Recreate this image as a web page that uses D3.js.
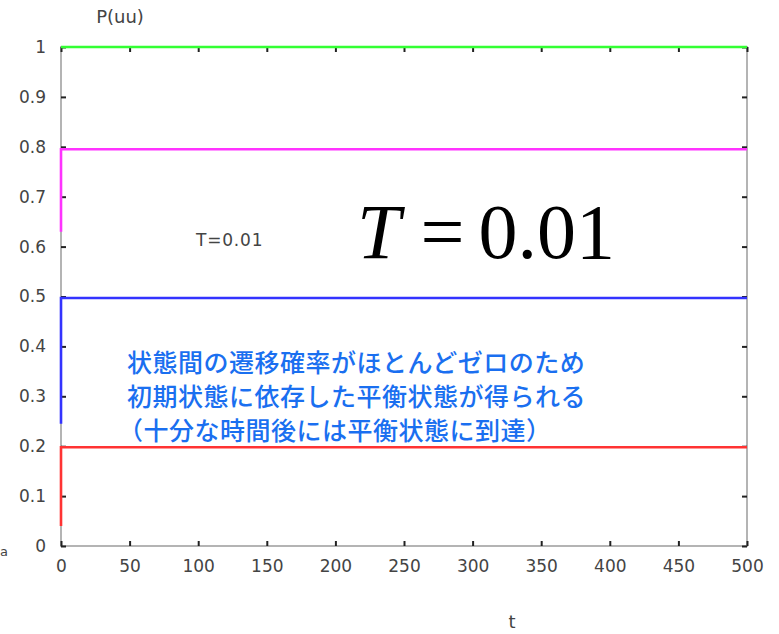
<!DOCTYPE html>
<html>
<head>
<meta charset="utf-8">
<script src="https://cdn.jsdelivr.net/npm/d3@7"></script>
<style>
  body { margin: 0; background: #fff; }
  svg { display: block; }
</style>
</head>
<body>
<script>
'use strict';

// P(uu) over time for four initial states at T = 0.01
const seriesColors = ["#33ff33", "#ff33ff", "#3333ff", "#ff3333"];
const seriesT = [0, 0, 500];
const greenValues = [1.0, 1.0, 1.0];
const magentaValues = [0.63, 0.795, 0.795];
const blueValues = [0.245, 0.497, 0.497];
const redValues = [0.04, 0.198, 0.198];

const xTicks = [0, 50, 100, 150, 200, 250, 300, 350, 400, 450, 500];
const yTicks = [0, 0.1, 0.2, 0.3, 0.4, 0.5, 0.6, 0.7, 0.8, 0.9, 1];

const noteLines = [
	"状態間の遷移確率がほとんどゼロのため",
	"初期状態に依存した平衡状態が得られる",
	"（十分な時間後には平衡状態に到達）"
];

const params = { width: 779, height: 634, left: 61, right: 747, top: 47, bottom: 546 };

const svg = d3.select("body").append("svg")
	.attr("width", params.width)
	.attr("height", params.height);

const xScale = d3.scaleLinear().domain([0, 500]).range([params.left, params.right]);
const yScale = d3.scaleLinear().domain([0, 1]).range([params.bottom, params.top]);

// frame
svg.append("rect")
	.attr("x", params.left).attr("y", params.top)
	.attr("width", params.right - params.left)
	.attr("height", params.bottom - params.top)
	.attr("fill", "none").attr("stroke", "#b4b4b4").attr("stroke-width", 2);

// axes with inward ticks, gnuplot style
const tickFont = "'DejaVu Sans', sans-serif";
const styleAxis = (g) => {
	g.select(".domain").remove();
	g.selectAll(".tick line").attr("stroke", "#222").attr("stroke-width", 2);
	g.selectAll(".tick text").attr("fill", "#444").attr("font-family", tickFont).attr("font-size", 17);
};

svg.append("g")
	.attr("transform", `translate(0,${params.bottom})`)
	.call(d3.axisBottom(xScale).tickValues(xTicks).tickSizeInner(-5).tickPadding(14).tickFormat(d3.format("d")))
	.call(styleAxis);

svg.append("g")
	.attr("transform", `translate(0,${params.top})`)
	.call(d3.axisTop(xScale).tickValues(xTicks).tickSizeInner(-5).tickFormat(""))
	.call(styleAxis);

svg.append("g")
	.attr("transform", `translate(${params.left},0)`)
	.call(d3.axisLeft(yScale).tickValues(yTicks).tickSizeInner(-5).tickPadding(15).tickFormat(d => d3.format("")(+d.toFixed(1))))
	.call(styleAxis);

svg.append("g")
	.attr("transform", `translate(${params.right},0)`)
	.call(d3.axisRight(yScale).tickValues(yTicks).tickSizeInner(-5).tickFormat(""))
	.call(styleAxis);

// series
const allValues = [greenValues, magentaValues, blueValues, redValues];
const line = d3.line().x(d => xScale(d[0])).y(d => yScale(d[1]));
allValues.forEach((vals, i) => {
	svg.append("path")
		.datum(seriesT.map((t, j) => [t, vals[j]]))
		.attr("fill", "none")
		.attr("stroke", seriesColors[i])
		.attr("stroke-width", 2.6)
		.attr("d", line);
});

// labels
svg.append("text").attr("x", 120).attr("y", 23).attr("text-anchor", "middle")
	.attr("font-family", tickFont).attr("font-size", 18).attr("fill", "#444").text("P(uu)");
svg.append("text").attr("x", 512).attr("y", 628).attr("text-anchor", "middle")
	.attr("font-family", tickFont).attr("font-size", 18).attr("fill", "#444").text("t");
svg.append("text").attr("x", 0).attr("y", 556)
	.attr("font-family", tickFont).attr("font-size", 13).attr("fill", "#444").text("a");

svg.append("text").attr("x", 196).attr("y", 246)
	.attr("font-family", tickFont).attr("font-size", 17).attr("letter-spacing", 0.8)
	.attr("fill", "#444").text("T=0.01");

const big = svg.append("text").attr("x", 357).attr("y", 258)
	.attr("font-family", "'Liberation Serif', serif").attr("font-size", 78).attr("fill", "#000");
big.append("tspan").attr("font-style", "italic").text("T");
big.append("tspan").attr("dx", 20).text("=");
big.append("tspan").attr("dx", 14).text("0.01");

svg.append("g").selectAll("text")
	.data(noteLines)
	.join("text")
	.attr("x", (d, i) => i === 2 ? 118 : 127)
	.attr("y", (d, i) => 372 + i * 34)
	.attr("font-family", "'Noto Sans CJK JP', sans-serif")
	.attr("font-size", 25)
	.attr("font-weight", 500)
	.attr("letter-spacing", 0.5)
	.attr("fill", "#1a6ff0")
	.text(d => d);
</script>
</body>
</html>
